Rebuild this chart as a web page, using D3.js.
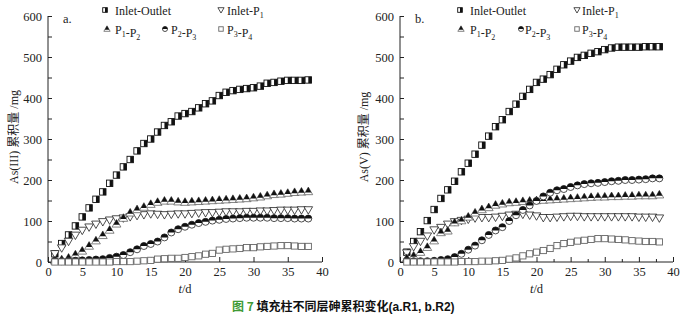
<!DOCTYPE html>
<html><head><meta charset="utf-8">
<script src="https://cdn.jsdelivr.net/npm/d3@7"></script>
<style>body{margin:0;background:#fff}svg{display:block}</style>
</head><body>
<svg id="c" width="690" height="323"></svg>
<script>
const days = [1,2,3,4,5,6,7,8,9,10,11,12,13,14,15,16,17,18,19,20,21,22,23,24,25,26,27,28,29,30,31,32,33,34,35,36,37,38];
const xTicks = [0,5,10,15,20,25,30,35,40];
const yTicks = [0,100,200,300,400,500,600];

// Panel a (R1, As(III))
const aInletOutlet = [20,45,66,88,110,132,153,171,192,212,232,250,271,289,300,317,333,342,356,362,367,376,386,393,406,414,418,421,423,425,429,436,438,441,443,443,443,444];
const aInletP1 = [20,34,50,65,77,85,92,98,102,105,107,110,113,115,117,116,115,116,117,117,118,119,120,120,121,122,122,122,123,123,124,124,125,126,126,126,127,127];
const aP1P2 = [3,6,10,18,27,39,52,65,78,93,107,120,128,134,141,146,149,149,147,146,147,148,149,150,151,152,153,154,155,157,159,162,165,166,168,170,171,172];
const aP2P3 = [3,2,3,3,4,5,6,7,10,13,17,24,31,39,44,50,60,72,80,86,91,95,98,101,103,105,106,107,108,108,108,108,107,107,107,106,106,106];
const aP3P4 = [0,0,0,0,0,0,0,0,0,1,1,1,2,3,4,7,8,9,9,11,13,15,19,21,29,31,32,33,35,35,37,38,39,40,40,39,38,38];

// Panel b (R2, As(V))
const bInletOutlet = [24,50,74,101,128,155,176,197,220,241,263,285,307,330,347,367,385,404,421,438,446,457,470,481,490,499,504,509,513,518,522,524,524,524,524,525,525,525];
const bInletP1 = [22,37,50,63,78,84,92,98,101,104,107,108,108,109,111,114,116,116,114,112,108,108,109,110,111,111,110,110,110,110,110,110,110,110,109,109,109,107];
const bP1P2 = [9,15,24,36,52,72,76,96,101,110,120,128,133,139,142,145,146,148,149,150,151,152,153,154,155,156,157,158,159,159,160,160,161,161,162,162,162,164];
const bP2P3 = [3,2,2,2,3,5,7,12,20,30,40,53,66,77,85,100,114,127,138,149,160,169,175,178,183,187,190,192,193,195,197,198,200,200,201,202,204,204];
const bP3P4 = [0,0,0,0,0,0,0,0,1,1,1,2,2,3,4,7,10,15,20,24,28,33,40,45,48,51,53,55,57,57,56,55,54,52,51,50,50,49];

const seriesNames = ["Inlet-Outlet","Inlet-P1","P1-P2","P2-P3","P3-P4"];
const markerTypes = ["halfSquare","triDown","halfTriUp","halfCircle","openSquare"];

const svg = d3.select("#c");
const serif = "'Liberation Serif','Times New Roman',serif";

function marker(g, type, k) {
  if (type === "halfSquare") {
    const s = 3.2*k;
    g.append("rect").attr("x",-s).attr("y",-s).attr("width",2*s).attr("height",2*s)
      .attr("fill","#fff").attr("stroke","#111").attr("stroke-width",0.9);
    g.append("rect").attr("x",0).attr("y",-s).attr("width",s).attr("height",2*s).attr("fill","#111");
  } else if (type === "triDown") {
    const w = 4.3*k, t = 3.2*k, b = 4.2*k;
    g.append("path").attr("d",`M${-w},${-t}L${w},${-t}L0,${b}Z`)
      .attr("fill","#fff").attr("stroke","#222").attr("stroke-width",0.8);
  } else if (type === "halfTriUp") {
    const w = 4.4*k, a = -4.4*k, b = 3.2*k, c = 0.9*k;
    const hw = w*(c-a)/(b-a);
    g.append("path").attr("d",`M0,${a}L${w},${b}L${-w},${b}Z`)
      .attr("fill","#fff").attr("stroke","#666").attr("stroke-width",0.8);
    g.append("path").attr("d",`M0,${a}L${hw},${c}L${-hw},${c}Z`).attr("fill","#111");
  } else if (type === "halfCircle") {
    const r = 3.5*k;
    g.append("circle").attr("r",r).attr("fill","#fff").attr("stroke","#222").attr("stroke-width",0.8);
    g.append("path").attr("d",`M${-r},0A${r},${r} 0 0 1 ${r},0Z`).attr("fill","#111");
  } else if (type === "openSquare") {
    const s = 3.1*k;
    g.append("rect").attr("x",-s).attr("y",-s).attr("width",2*s).attr("height",2*s)
      .attr("fill","#fff").attr("stroke","#666").attr("stroke-width",0.9);
  }
}

function labelWithSubs(t, name) {
  const parts = name.match(/[A-Za-z\-]+|\d/g);
  parts.forEach(p => {
    if (/^\d$/.test(p)) {
      t.append("tspan").attr("font-size","8px").attr("dy",3).text(p);
      t.append("tspan").attr("dy",-3).text("");
    } else {
      t.append("tspan").text(p);
    }
  });
}

function panel(cfg) {
  const x = d3.scaleLinear().domain([0,40]).range([cfg.x0, cfg.x1]);
  const y = d3.scaleLinear().domain([0,600]).range([262,16]);
  const g = svg.append("g");

  const ya = d3.axisLeft(y).tickValues(yTicks).tickSize(-4).tickPadding(6).tickFormat(d3.format("d"));
  const yg = g.append("g").attr("transform",`translate(${cfg.x0},0)`).call(ya);
  const yMinor = d3.axisLeft(y).tickValues([50,150,250,350,450,550]).tickSize(-4).tickFormat("");
  g.append("g").attr("transform",`translate(${cfg.x0},0)`).call(yMinor).select(".domain").remove();

  const xa = d3.axisBottom(x).tickValues(xTicks).tickSize(-5).tickPadding(5).tickFormat(d3.format("d"));
  const xg = g.append("g").attr("transform","translate(0,262)").call(xa);
  if (cfg.minorX) {
    const xMinor = d3.axisBottom(x).tickValues([2.5,7.5,12.5,17.5,22.5,27.5,32.5,37.5]).tickSize(-3).tickFormat("");
    g.append("g").attr("transform","translate(0,262)").call(xMinor).select(".domain").remove();
  }
  g.selectAll(".domain").attr("stroke","#222").attr("stroke-width",1);
  g.selectAll(".tick line").attr("stroke","#222");
  g.selectAll(".tick text").attr("font-family",serif).attr("font-size","12.5px").attr("fill","#222");
  yg.selectAll(".domain").attr("d",`M0,${y(0)}V${y(600)}`);
  xg.selectAll(".domain").attr("d",`M${x(0)},0H${x(40)}`);

  g.append("text").attr("transform",`translate(${cfg.ylx},137) rotate(-90)`)
    .attr("text-anchor","middle").attr("font-family",serif+",'Noto Sans CJK SC'")
    .attr("font-size","12px").attr("fill","#222").text(cfg.ylabel);
  const xl = g.append("text").attr("x",(cfg.x0+cfg.x1)/2).attr("y",293).attr("text-anchor","middle")
    .attr("font-family",serif).attr("font-size","12.5px").attr("fill","#222");
  xl.append("tspan").attr("font-style","italic").text("t");
  xl.append("tspan").text("/d");
  g.append("text").attr("x",cfg.x0+15).attr("y",23).attr("font-family",serif).attr("font-size","12.5px").attr("fill","#222").text(cfg.letter);

  cfg.series.forEach((vals,i) => {
    const sg = g.append("g");
    days.forEach((d,j) => {
      const m = sg.append("g").attr("transform",`translate(${x(d)},${y(vals[j])})`);
      marker(m, markerTypes[i], 1);
    });
  });

  const L = cfg.legend;
  seriesNames.forEach((n,i) => {
    const p = L[i];
    const m = g.append("g").attr("transform",`translate(${p[0]},${p[1]})`);
    marker(m, markerTypes[i], 0.72);
    const t = g.append("text").attr("x",p[2]).attr("y",p[1]+4.5).attr("font-family",serif)
      .attr("font-size","12px").attr("fill","#222");
    labelWithSubs(t, n);
  });
}

panel({x0:48, x1:322, minorX:false, ylx:18, letter:"a.", ylabel:"As(III) 累积量 /mg",
  series:[aInletOutlet,aInletP1,aP1P2,aP2P3,aP3P4],
  legend:[[105,10,115],[221,10,227],[107,29,115],[165,29,171],[221,29,227]]});
panel({x0:400, x1:673, minorX:true, ylx:368, letter:"b.", ylabel:"As(V) 累积量 /mg",
  series:[bInletOutlet,bInletP1,bP1P2,bP2P3,bP3P4],
  legend:[[460,10,470],[577,10,582],[461,29,470],[521,29,525],[577,29,582]]});

const cap = svg.append("text").attr("x",232).attr("y",311).attr("font-family","'Noto Sans CJK SC','Liberation Sans',sans-serif")
  .attr("font-size","12px").attr("font-weight","bold");
cap.append("tspan").attr("fill","#3f9a35").text("图 7 ");
cap.append("tspan").attr("fill","#111").text("填充柱不同层砷累积变化");
cap.append("tspan").attr("fill","#111").attr("font-family","'Liberation Sans',Arial,sans-serif").text("(a.R1, b.R2)");
</script>
</body></html>
